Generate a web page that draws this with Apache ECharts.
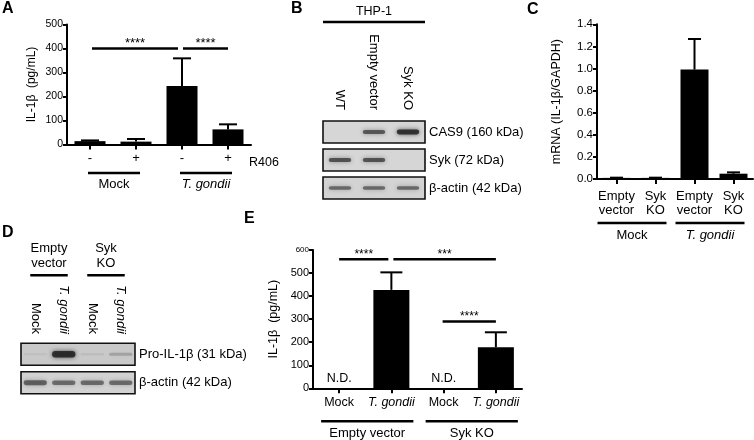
<!DOCTYPE html>
<html><head><meta charset="utf-8">
<script src="https://cdn.jsdelivr.net/npm/echarts@6/dist/echarts.min.js"></script>
<style>html,body{margin:0;padding:0;background:#fff}#c{width:754px;height:440px}</style>
</head><body><div id="c"></div>
<script>
// ---------- Panel A ----------
const aCats = ['-', '+', '-', '+'];
const aMeans = [14, 12, 244, 63];
const aErrTop = [17, 23, 359, 84];
const aGroups = [{label: 'Mock', from: 0, to: 1}, {label: 'T. gondii', from: 2, to: 3, italic: true}];
const aSig = [{from: 0, to: 2, y: 400, text: '****'}, {from: 2, to: 3, y: 400, text: '****'}];
// ---------- Panel B ----------
const bLanes = ['WT', 'Empty vector', 'Syk KO'];
const bRows = ['CAS9 (160 kDa)', 'Syk (72 kDa)', 'β-actin (42 kDa)'];
const bBands = [[1, 0, 0.72], [2, 0, 0.97], [0, 1, 0.75], [1, 1, 0.75], [0, 2, 0.62], [1, 2, 0.62], [2, 2, 0.62]];
const bHeader = [{label: 'THP-1', from: 0, to: 2}];
// ---------- Panel C ----------
const cCats = ['Empty\nvector', 'Syk\nKO', 'Empty\nvector', 'Syk\nKO'];
const cMeans = [0.01, 0.01, 0.99, 0.048];
const cErrTop = [0.012, 0.012, 1.267, 0.06];
const cGroups = [{label: 'Mock', from: 0, to: 1}, {label: 'T. gondii', from: 2, to: 3, italic: true}];
// ---------- Panel D ----------
const dLanes = ['Mock', 'T. gondii', 'Mock', 'T. gondii'];
const dRows = ['Pro-IL-1β (31 kDa)', 'β-actin (42 kDa)'];
const dBands = [[0, 0, 0.06], [1, 0, 1.0], [2, 0, 0.08], [3, 0, 0.24], [0, 1, 0.66], [1, 1, 0.6], [2, 1, 0.6], [3, 1, 0.6]];
const dHeader = [{label: 'Empty\nvector', from: 0, to: 1}, {label: 'Syk\nKO', from: 2, to: 3}];
// ---------- Panel E ----------
const eCats = ['Mock', 'T. gondii', 'Mock', 'T. gondii'];
const eMeans = [0, 427, 0, 178];
const eErrTop = [null, 503, null, 243];
const eND = ['N.D.', '', 'N.D.', ''];
const eGroups = [{label: 'Empty vector', from: 0, to: 1}, {label: 'Syk KO', from: 2, to: 3}];
const eSig = [{from: 0, to: 1, y: 560, text: '****'}, {from: 1, to: 3, y: 560, text: '***'}, {from: 2, to: 3, y: 290, text: '****'}];

const F = "'Liberation Sans', Arial, Helvetica, sans-serif";
const K = '#000';

function valueY(gi, max, interval, fs, fmt, name, gap, nfs, rich) {
  return {type: 'value', gridIndex: gi, min: 0, max: max, interval: interval,
    name: name, nameLocation: 'middle', nameGap: gap, nameRotate: 90,
    nameTextStyle: {color: K, fontSize: nfs, fontFamily: F},
    axisLine: {show: true, lineStyle: {color: K, width: 2}},
    axisTick: {show: true, length: 4, lineStyle: {color: K, width: 2}},
    splitLine: {show: false},
    axisLabel: {color: K, fontSize: fs, fontFamily: F, margin: 4, formatter: fmt, rich: rich}};
}
function catX(gi, data, fs, margin, lh) {
  return {type: 'category', gridIndex: gi, data: data,
    axisLine: {show: true, lineStyle: {color: K, width: 2}},
    axisTick: {show: true, alignWithLabel: true, length: 5, lineStyle: {color: K, width: 2}},
    axisLabel: {color: K, fontSize: fs, fontFamily: F, margin: margin, lineHeight: lh, interval: 0,
      formatter: v => v === 'T. gondii' ? '{i|' + v + '}' : v,
      rich: {i: {fontStyle: 'italic', fontSize: fs, fontFamily: F, color: K}}}};
}
function laneX(gi, data, fs, margin) {
  return {type: 'category', gridIndex: gi, data: data, position: 'top',
    axisLine: {show: false}, axisTick: {show: false},
    axisLabel: {color: K, fontSize: fs, fontFamily: F, margin: margin, rotate: 90, interval: 0,
      formatter: v => v === 'T. gondii' ? '{i|' + v + '}' : v,
      rich: {i: {fontStyle: 'italic', fontSize: fs, fontFamily: F, color: K}}}};
}
function rowY(gi, data, fs) {
  return {type: 'category', gridIndex: gi, data: data, inverse: true, position: 'right',
    axisLine: {show: false}, axisTick: {show: false},
    axisLabel: {color: K, fontSize: fs, fontFamily: F, margin: 4}};
}
function barS(gi, data, bw, labels) {
  return {type: 'bar', xAxisIndex: gi, yAxisIndex: gi, data: data, barWidth: bw, silent: true, z: 2,
    itemStyle: {color: K},
    label: labels ? {show: true, position: 'top', distance: 3, color: K, fontSize: 12.5, fontFamily: F,
      formatter: p => labels[p.dataIndex]} : {show: false}};
}
function errS(gi, means, tops, capW) {
  const items = [];
  tops.forEach((t, i) => { if (t != null) items.push([i, t, means[i]]); });
  return {type: 'custom', xAxisIndex: gi, yAxisIndex: gi, silent: true, z: 5, clip: false,
    data: items,
    encode: {x: 0, y: 1},
    renderItem: (p, api) => {
      const it = items[p.dataIndex];
      const a = api.coord([it[0], it[2]]);
      const b = api.coord([it[0], it[1]]);
      return {type: 'group', children: [
        {type: 'line', shape: {x1: b[0], y1: a[1], x2: b[0], y2: b[1]}, style: {stroke: K, lineWidth: 2}},
        {type: 'line', shape: {x1: b[0] - capW / 2, y1: b[1], x2: b[0] + capW / 2, y2: b[1]}, style: {stroke: K, lineWidth: 2}}
      ]};
    }};
}
function sigS(gi, sigs, pads, fs) {
  return {type: 'custom', xAxisIndex: gi, yAxisIndex: gi, silent: true, z: 4,
    data: sigs.map(s => [s.from, s.to, s.y]),
    encode: {x: [0, 1], y: 2},
    renderItem: (p, api) => {
      const s = sigs[p.dataIndex], pd = pads[p.dataIndex];
      const a = api.coord([s.from, s.y]), b = api.coord([s.to, s.y]);
      const x1 = a[0] + pd[0], x2 = b[0] + pd[1], y = a[1];
      return {type: 'group', children: [
        {type: 'line', shape: {x1: x1, y1: y, x2: x2, y2: y}, style: {stroke: K, lineWidth: 2.5}},
        {type: 'text', x: (x1 + x2) / 2, y: y + 1, style: {text: s.text, fill: K, fontSize: fs, fontFamily: F, align: 'center', verticalAlign: 'bottom'}}
      ]};
    }};
}
function groupS(gi, groups, o) {
  return {type: 'custom', xAxisIndex: gi, yAxisIndex: gi, silent: true, z: 4,
    data: groups.map(g => [g.from, g.to, o.refY]),
    encode: {x: [0, 1], y: 2},
    renderItem: (p, api) => {
      const g = groups[p.dataIndex];
      const a = api.coord([g.from, o.refY]), b = api.coord([g.to, o.refY]);
      const y = a[1] + o.dy, x1 = a[0] - o.padL, x2 = b[0] + o.padR;
      return {type: 'group', children: [
        {type: 'line', shape: {x1: x1, y1: y, x2: x2, y2: y}, style: {stroke: K, lineWidth: 2.5}},
        {type: 'text', x: (x1 + x2) / 2 + (o.tdx || 0), y: y + o.tdy, style: {text: g.label, fill: K, fontSize: o.fs, fontFamily: F,
          fontStyle: g.italic ? 'italic' : 'normal', align: 'center', verticalAlign: o.va, lineHeight: o.lh || o.fs + 2}}
      ]};
    }};
}
function boxS(gi, rows, lanes, h, fills) {
  return {type: 'custom', xAxisIndex: gi, yAxisIndex: gi, silent: true, z: 2,
    data: rows.map((r, i) => [0, i]),
    encode: {x: 0, y: 1},
    renderItem: (p, api) => {
      const bw = api.size([1, 0])[0];
      const a = api.coord([0, p.dataIndex]), b = api.coord([lanes.length - 1, p.dataIndex]);
      return {type: 'rect', shape: {x: a[0] - bw / 2, y: a[1] - h / 2, width: b[0] - a[0] + bw, height: h},
        style: {fill: fills[p.dataIndex], stroke: '#111', lineWidth: 1.6}};
    }};
}
function bandS(gi, bands, wf, hBase, hGain) {
  return {type: 'custom', xAxisIndex: gi, yAxisIndex: gi, silent: true, z: 3,
    data: bands, encode: {x: 0, y: 1},
    renderItem: (p, api) => {
      const bw = api.size([1, 0])[0];
      const c = api.coord([api.value(0), api.value(1)]);
      const it = api.value(2);
      const w = bw * wf, h = hBase + hGain * it;
      const col = 'rgba(30,30,30,' + (0.85 * it) + ')';
      return {type: 'rect', shape: {x: c[0] - w / 2, y: c[1] - h / 2, width: w, height: h, r: h / 2},
        style: {fill: col, shadowBlur: 4, shadowColor: col}};
    }};
}

const chart = echarts.init(document.getElementById('c'));
chart.setOption({
  animation: false,
  backgroundColor: '#fff',
  textStyle: {fontFamily: F},
  grid: [
    {left: 67, top: 24.5, width: 184, height: 120},
    {left: 323, top: 118, width: 102, height: 84},
    {left: 597, top: 24.3, width: 156, height: 154.7},
    {left: 21, top: 340, width: 114, height: 57},
    {left: 313, top: 250, width: 209, height: 138.3}
  ],
  xAxis: [
    catX(0, aCats, 13, 7, 13),
    laneX(1, bLanes, 13, 8),
    catX(2, cCats, 13, 10, 14),
    laneX(3, dLanes, 13, 6),
    catX(4, eCats, 12.5, 8, 13)
  ],
  yAxis: [
    valueY(0, 500, 100, 10.5, null, 'IL-1β  (pg/mL)', 29, 12),
    rowY(1, bRows, 13),
    valueY(2, 1.4, 0.2, 11.5, v => v.toFixed(1), 'mRNA (IL-1β/GAPDH)', 34, 12.5),
    rowY(3, dRows, 13),
    valueY(4, 600, 100, 11, v => v === 600 ? '{s|600}' : String(v), 'IL-1β  (pg/mL)', 33, 12.5,
      {s: {fontSize: 8, fontFamily: F, color: K}})
  ],
  series: [
    barS(0, aMeans, 31),
    errS(0, aMeans, aErrTop, 18),
    sigS(0, aSig, [[2, -4], [1, 0]], 13),
    groupS(0, aGroups, {refY: 0, dy: 28.5, tdy: 11.5, padL: 2, padR: 4, fs: 13, va: 'middle'}),
    boxS(1, bRows, bLanes, 22, ['#d6d6d6', '#d6d6d6', '#d3d3d3']),
    bandS(1, bBands, 0.66, 1.5, 3.5),
    groupS(1, bHeader, {refY: 0, dy: -110, tdy: -3, padL: 17, padR: 17, fs: 12.5, va: 'bottom'}),
    barS(2, cMeans, 28),
    errS(2, cMeans, cErrTop, 13),
    groupS(2, cGroups, {refY: 0, dy: 44, tdy: 12, padL: 19, padR: 11, fs: 13, va: 'middle'}),
    boxS(3, dRows, dLanes, 22, ['#c9c9c9', '#d2d2d2']),
    bandS(3, dBands, 0.82, 2, 4.5),
    groupS(3, dHeader, {refY: 0, dy: -79, tdy: -5, padL: 5, padR: 4, fs: 13, va: 'bottom', lh: 14.5}),
    barS(4, eMeans, 36, eND),
    errS(4, eMeans, eErrTop, 22),
    sigS(4, eSig, [[0, -3], [2, 0], [-1, 0]], 12),
    groupS(4, eGroups, {refY: 0, dy: 33, tdy: 12.5, padL: 18, padR: 22, fs: 13, va: 'middle'})
  ],
  graphic: [
    {type: 'text', left: 2, top: 1, style: {text: 'A', fontSize: 16, fontWeight: 'bold', fontFamily: F, fill: K}},
    {type: 'text', left: 291, top: 1, style: {text: 'B', fontSize: 16, fontWeight: 'bold', fontFamily: F, fill: K}},
    {type: 'text', left: 527, top: 2, style: {text: 'C', fontSize: 16, fontWeight: 'bold', fontFamily: F, fill: K}},
    {type: 'text', left: 2, top: 225, style: {text: 'D', fontSize: 16, fontWeight: 'bold', fontFamily: F, fill: K}},
    {type: 'text', left: 244, top: 211, style: {text: 'E', fontSize: 16, fontWeight: 'bold', fontFamily: F, fill: K}},
    {type: 'text', left: 249, top: 156, style: {text: 'R406', fontSize: 12.5, fontFamily: F, fill: K}}
  ]
});
</script></body></html>
